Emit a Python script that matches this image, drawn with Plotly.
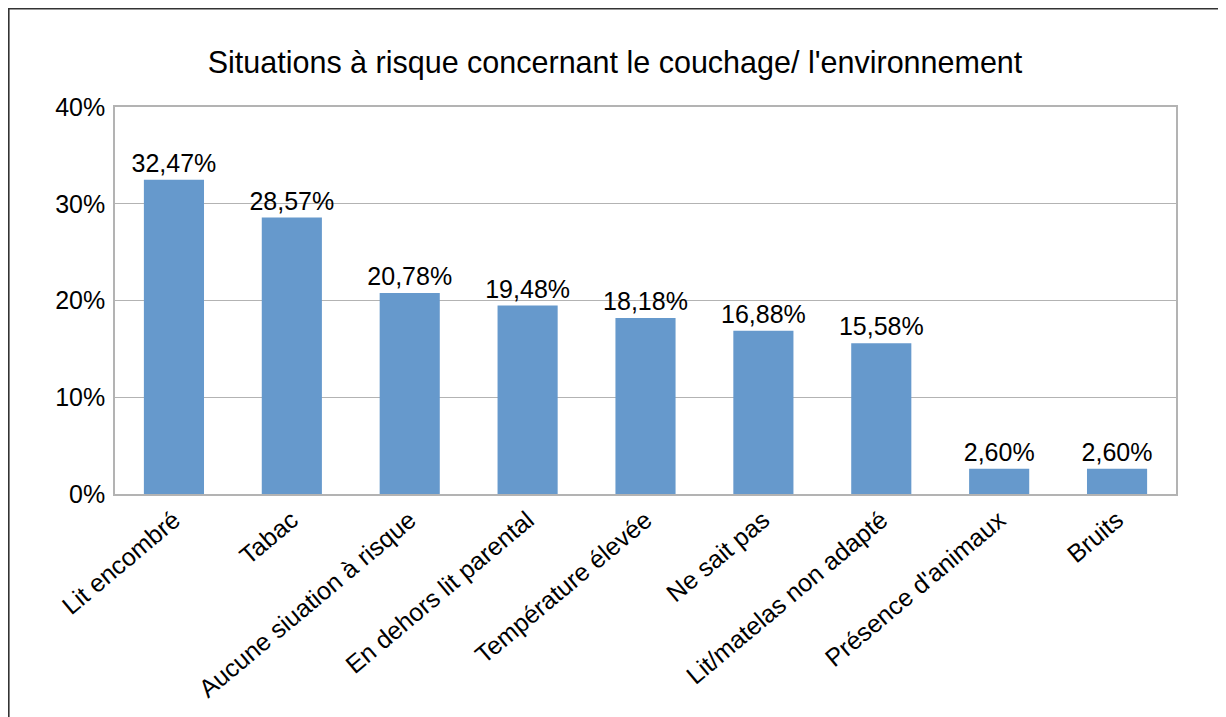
import plotly.graph_objects as go

# Données
categories = [
    "Lit encombré", "Tabac", "Aucune siuation à risque", "En dehors lit parental",
    "Température élevée", "Ne sait pas", "Lit/matelas non adapté",
    "Présence d'animaux", "Bruits",
]
valeurs = [32.47, 28.57, 20.78, 19.48, 18.18, 16.88, 15.58, 2.60, 2.60]
etiquettes = [f"{v:.2f}%".replace(".", ",") for v in valeurs]

W, H = 1226, 717
# la page ajoute une marge de 8 px autour de la figure
L, R, T, B = 107, 58, 99, 231
pw, ph = W - L - R, H - T - B

fig = go.Figure()

fig.add_trace(go.Bar(
    x=categories, y=valeurs,
    text=etiquettes, textposition="outside", constraintext="none",
    textfont=dict(size=25, color="black"),
    marker=dict(color="#6699cc", line_width=0),
    cliponaxis=False,
))

# Cadre extérieur du graphique
fig.add_shape(
    type="rect", xref="paper", yref="paper",
    x0=(0.8 - L) / pw, x1=(W + 20 - L) / pw,
    y0=-(B + 30) / ph, y1=1 + (T - 0.8) / ph,
    line=dict(color="#333333", width=1.6), fillcolor="rgba(0,0,0,0)",
)

fig.update_layout(
    width=W, height=H,
    margin=dict(l=L, r=R, t=T, b=B, autoexpand=False),
    title=dict(
        text="Situations à risque concernant le couchage/ l'environnement",
        x=607 / W, xref="container", xanchor="center",
        y=1 - 54 / H, yanchor="middle",
        font=dict(size=30.5, color="black"),
    ),
    font=dict(family="Liberation Sans, Arial, sans-serif", color="black"),
    plot_bgcolor="white", paper_bgcolor="white",
    bargap=0.49, showlegend=False,
)

fig.update_xaxes(
    tickangle=-40, tickfont=dict(size=25), automargin=False,
    showline=True, linecolor="#b3b3b3", linewidth=1.5, mirror=True,
    showgrid=False, ticks="",
)
fig.update_yaxes(
    range=[0, 40], dtick=10, ticksuffix="%", automargin=False,
    tickfont=dict(size=25), ticklabelstandoff=3,
    showline=True, linecolor="#b3b3b3", linewidth=1.5, mirror=True,
    showgrid=True, gridcolor="#b3b3b3", gridwidth=1, zeroline=False,
)

fig.write_html("out.html")
